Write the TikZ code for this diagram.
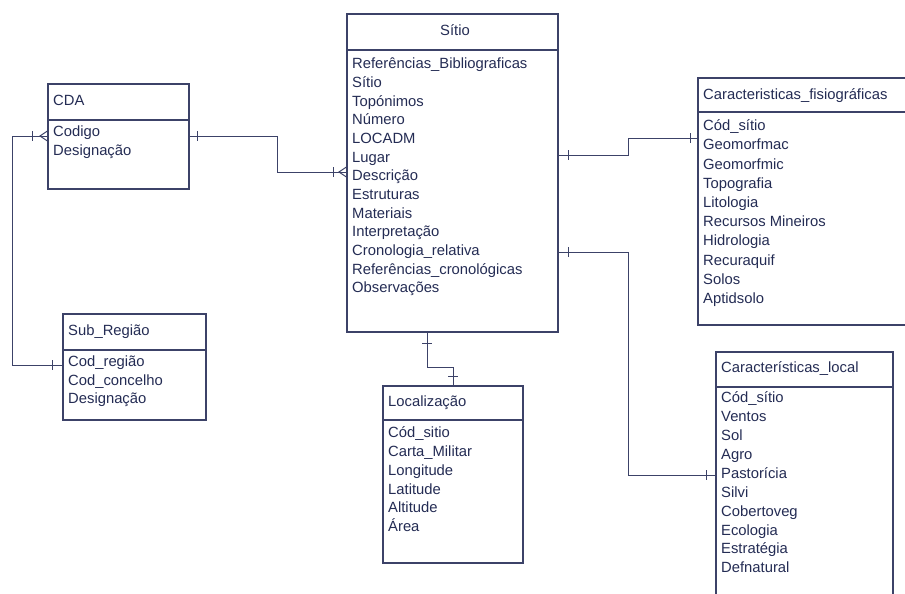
\documentclass[tikz,border=0pt]{standalone}
\usepackage{fontspec}
\setmainfont{Liberation Sans}
\definecolor{ink}{RGB}{36,44,84}
\definecolor{edgec}{RGB}{60,66,104}
\tikzset{
  ent/.style={draw=edgec, line width=1.2pt, rectangle, inner sep=0pt},
  txt/.style={anchor=west, inner sep=0pt, text=ink, font=\fontsize{14.8}{17}\selectfont, text height=10.5pt, text depth=3pt},
  conn/.style={draw=edgec, line width=1pt},
  bar/.style={draw=edgec, line width=1pt},
}
\newcommand\entbox[6]{%
  \node[ent, minimum width={(#4)-(#2)}, minimum height={(#5)-(#3)}] (#1) at ({((#2)+(#4))/2},{((#3)+(#5))/2}) {};
  \draw[draw=edgec, line width=1.2pt] (#1.west |- 0,#6) -- (#1.east |- 0,#6);
}
\begin{document}
\begin{tikzpicture}[x=1pt,y=-1pt]
\clip (0,0) rectangle (905,594);
\fill[white] (0,0) rectangle (905,594);

% entities
\entbox{cda}{48}{84}{189}{189}{120}
\entbox{subr}{63}{314}{206}{420}{350}
\entbox{sitio}{347}{14}{558}{332}{50}
\entbox{fisio}{698}{78}{912}{325}{112}
\entbox{local}{716}{352}{893}{604}{387}
\entbox{loc}{383}{386}{523}{563}{420}

% titles
\node[txt] (cda-t) at (53,102) {CDA};
\node[txt] (subr-t) at (68,332) {Sub\_Região};
\node[txt, anchor=center] (sitio-t) at (455,32) {Sítio};
\node[txt] (fisio-t) at (703,96) {Caracteristicas\_fisiográficas};
\node[txt] (local-t) at (721,369) {Características\_local};
\node[txt] (loc-t) at (388,403) {Localização};

% attributes
\foreach \t [count=\i] in {Codigo, Designação}
  \node[txt] (cda-\i) at (53,{133+(\i-1)*19}) {\t};
\foreach \t [count=\i] in {Cod\_região, Cod\_concelho, Designação}
  \node[txt] (subr-\i) at (68,{363+(\i-1)*18.5}) {\t};
\foreach \t [count=\i] in {Referências\_Bibliograficas, Sítio, Topónimos, Número, LOCADM, Lugar, Descrição, Estruturas, Materiais, Interpretação, Cronologia\_relativa, Referências\_cronológicas, Observações}
  \node[txt] (sitio-\i) at (352,{65+(\i-1)*18.67}) {\t};
\foreach \t [count=\i] in {Cód\_sítio, Geomorfmac, Geomorfmic, Topografia, Litologia, Recursos Mineiros, Hidrologia, Recuraquif, Solos, Aptidsolo}
  \node[txt] (fisio-\i) at (703,{127+(\i-1)*19.2}) {\t};
\foreach \t [count=\i] in {Cód\_sítio, Ventos, Sol, Agro, Pastorícia, Silvi, Cobertoveg, Ecologia, Estratégia, Defnatural}
  \node[txt] (local-\i) at (721,{399+(\i-1)*18.9}) {\t};
\foreach \t [count=\i] in {Cód\_sitio, Carta\_Militar, Longitude, Latitude, Altitude, Área}
  \node[txt] (loc-\i) at (388,{434+(\i-1)*18.8}) {\t};

% CDA -- Sitio
\draw[conn] (cda.east |- 0,136) -- (277,136) |- (sitio.west |- 0,172);
\draw[bar] (197,131) -- (197,141);
\draw[bar] (333,167) -- (333,177);
\draw[bar] (sitio.west |- 0,167) -- (339,172) -- (sitio.west |- 0,177);

% CDA -- Sub_Regiao
\draw[conn] (cda.west |- 0,136) -- (12,136) |- (subr.west |- 0,365);
\draw[bar] (32,131) -- (32,141);
\draw[bar] (cda.west |- 0,131) -- (40,136) -- (cda.west |- 0,141);
\draw[bar] (52,360) -- (52,370);

% Sitio -- fisiograficas
\draw[conn] (sitio.east |- 0,155) -- (628,155) |- (fisio.west |- 0,138);
\draw[bar] (568,150) -- (568,160);
\draw[bar] (690,133) -- (690,143);

% Sitio -- local
\draw[conn] (sitio.east |- 0,252) -- (628,252) |- (local.west |- 0,475);
\draw[bar] (568,247) -- (568,257);
\draw[bar] (706,470) -- (706,480);

% Sitio -- Localizacao
\draw[conn] (sitio.south -| 427,0) -- (427,367) -| (loc.north -| 453,0);
\draw[bar] (422,343) -- (432,343);
\draw[bar] (448,376) -- (458,376);
\end{tikzpicture}
\end{document}
